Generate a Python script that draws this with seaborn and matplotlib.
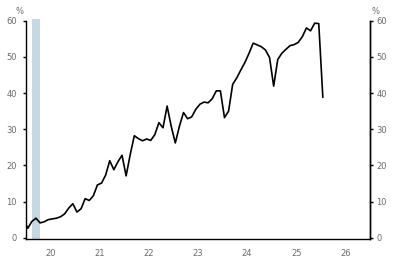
import numpy as np
import pandas as pd
import matplotlib
matplotlib.use("Agg")
import matplotlib.pyplot as plt
import seaborn as sns

# Monthly series, Dec 2019 .. Jan 2026 (values in %)
months = pd.date_range("2019-12-01", "2026-01-01", freq="MS")
values = [
    5.2,                                                     # Dec 2019
    2.6, 4.5, 5.4, 4.1, 4.4, 5.0, 5.2, 5.4, 5.8, 6.6, 8.2, 9.4,   # 2020
    7.1, 8.0, 10.8, 10.3, 11.6, 14.6, 15.1, 17.3, 21.3, 18.8, 21.0, 22.8,  # 2021
    17.1, 23.0, 28.2, 27.4, 26.8, 27.3, 26.9, 28.5, 31.8, 30.4, 36.4, 30.8,  # 2022
    26.2, 30.8, 34.6, 32.9, 33.4, 35.5, 36.9, 37.5, 37.3, 38.4, 40.6, 40.6,  # 2023
    33.2, 35.0, 42.4, 44.2, 46.4, 48.5, 51.0, 53.8, 53.3, 52.8, 51.9, 49.8,  # 2024
    41.9, 49.3, 51.0, 52.1, 53.1, 53.4, 54.0, 55.6, 58.0, 57.2, 59.3, 59.2,  # 2025
    38.8,                                                    # Jan 2026
]
recession_start, recession_end = 2020.13, 2020.29
year_labels = ["20", "21", "22", "23", "24", "25", "26"]
year_label_pos = [2020.5 + k for k in range(len(year_labels))]
yticks = [0, 10, 20, 30, 40, 50, 60]

dec_year = months.year + (months.month - 1 + 0.5) / 12.0
df = pd.DataFrame({"t": dec_year, "v": values})

sns.set_style("white")
plt.rcParams["font.family"] = ["DejaVu Sans"]

fig = plt.figure(figsize=(3.98, 2.67), dpi=100)
ax = fig.add_axes([0.0646, 0.1049, 0.865, 0.8176])

ax.axvspan(recession_start, recession_end, ymin=0, ymax=1.01, color="#c6d8e1", lw=0, clip_on=False, zorder=1)
sns.lineplot(data=df, x="t", y="v", ax=ax, color="black", linewidth=1.2, zorder=3)

ax.set_xlim(2020, 2027)
ax.set_ylim(-0.35, 60)
ax.set_xlabel("")
ax.set_ylabel("")

grey = "#6a6a6a"
ax.set_xticks(year_label_pos)
ax.set_xticklabels(year_labels, fontsize=6, color=grey)
ax.set_xticks([2020, 2023, 2027], minor=True)
ax.tick_params(axis="x", which="major", length=0, pad=7)
ax.tick_params(axis="x", which="minor", length=5.5, width=1, color="black", direction="out")

ax.set_yticks(yticks)
ax.set_yticklabels([str(v) for v in yticks], fontsize=6, color=grey)
ax.tick_params(axis="y", which="major", length=2.5, width=1, color="black", direction="out", pad=4, left=True)

ax.spines["top"].set_visible(False)
for s in ["left", "bottom", "right"]:
    ax.spines[s].set_visible(True)
    ax.spines[s].set_color("black")
    ax.spines[s].set_linewidth(1)

ax2 = ax.twinx()
ax2.set_ylim(ax.get_ylim())
ax2.set_yticks(yticks)
ax2.set_yticklabels([str(v) for v in yticks], fontsize=6, color=grey)
ax2.tick_params(axis="y", which="major", length=2.5, width=1, color="black", direction="out", pad=2, right=True)
for s in ["top", "left", "bottom"]:
    ax2.spines[s].set_visible(False)
ax2.spines["right"].set_color("black")
ax2.spines["right"].set_linewidth(1)

fig.text(20 / 398, 1 - 12 / 267, "%", fontsize=6, color=grey, ha="center", va="center")
fig.text(375 / 398, 1 - 12 / 267, "%", fontsize=6, color=grey, ha="center", va="center")

fig.savefig("out.png", dpi=100)
